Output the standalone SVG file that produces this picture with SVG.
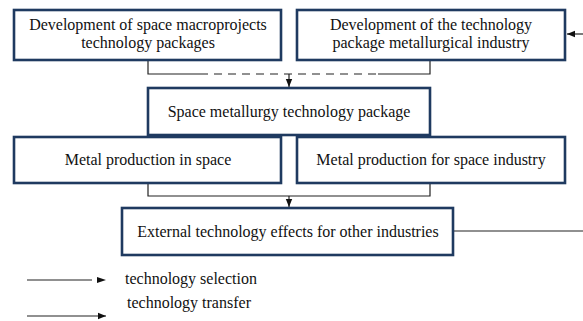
<svg xmlns="http://www.w3.org/2000/svg" width="583" height="321" viewBox="0 0 583 321">
<style>
.box{fill:#fff;stroke:#1f3a60;stroke-width:2.6}
.t{font-family:"Liberation Serif","Times New Roman",serif;font-size:16px;fill:#111;text-anchor:middle}
.l{font-family:"Liberation Serif","Times New Roman",serif;font-size:16px;fill:#111}
.c{fill:none;stroke:#222;stroke-width:1.2}
</style>
<defs>
<marker id="ah" viewBox="0 0 10 10" refX="10" refY="5" markerWidth="8" markerHeight="8" markerUnits="userSpaceOnUse" orient="auto"><path d="M0,1 L10,5 L0,9 Z" fill="#111"/></marker>
</defs>
<rect width="583" height="321" fill="#fff"/>
<g id="connectors">
<path class="c" d="M148,60 V74 H200"/>
<path class="c" d="M200,74 H378" stroke-dasharray="8,6"/>
<path class="c" d="M378,74 H430 V60"/>
<path class="c" d="M289,74 V87" marker-end="url(#ah)"/>
<path class="c" d="M148,183 V196 H430 V183"/>
<path class="c" d="M289,196 V207" marker-end="url(#ah)"/>
<path class="c" d="M453,231 H583"/>
<path class="c" d="M583,34 H567" marker-end="url(#ah)"/>
</g>
<g id="n1"><rect class="box" x="14" y="10" width="267" height="50"/><text class="t" x="148" y="30">Development of space macroprojects</text><text class="t" x="148" y="48">technology packages</text></g>
<g id="n2"><rect class="box" x="297" y="10" width="268" height="50"/><text class="t" x="431" y="30">Development of the technology</text><text class="t" x="431" y="48">package metallurgical industry</text></g>
<g id="n3"><rect class="box" x="148" y="88" width="282" height="47"/><text class="t" x="289" y="117">Space metallurgy technology package</text></g>
<g id="n4"><rect class="box" x="14" y="137" width="267" height="46"/><text class="t" x="148" y="165">Metal production in space</text></g>
<g id="n5"><rect class="box" x="297" y="137" width="268" height="46"/><text class="t" x="431" y="165">Metal production for space industry</text></g>
<g id="n6"><rect class="box" x="122" y="208" width="331" height="47"/><text class="t" x="288" y="237">External technology effects for other industries</text></g>
<g id="legend">
<path class="c" d="M27,280 H92"/>
<path d="M97,277 L106,280 L97,283 Z" fill="#111"/>
<text class="l" x="125" y="284">technology selection</text>
<path class="c" d="M27,316 H106" marker-end="url(#ah)"/>
<text class="l" x="127" y="308">technology transfer</text>
</g>
</svg>
